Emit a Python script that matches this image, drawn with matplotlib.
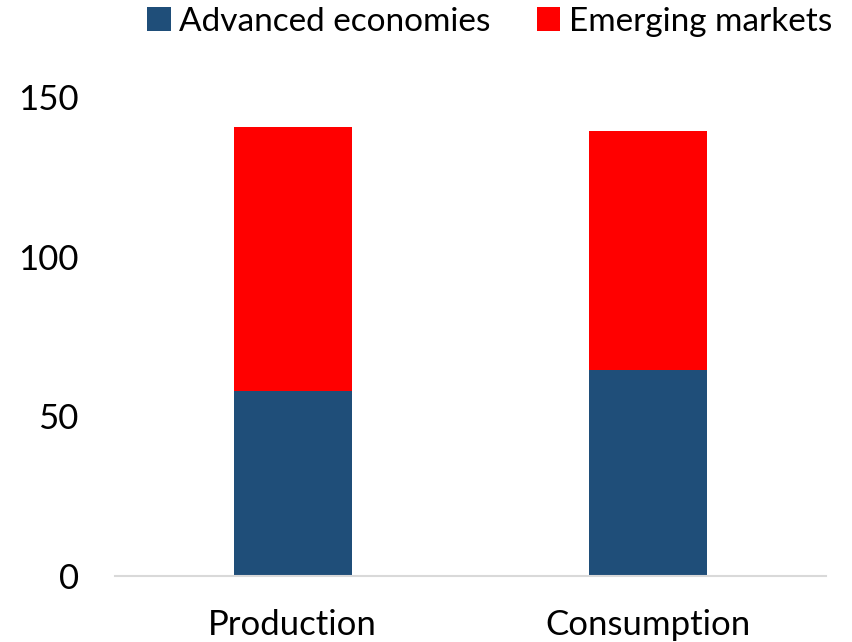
import matplotlib.pyplot as plt
import numpy as np

categories = ['Production', 'Consumption']
advanced = [57.8, 64.4]
emerging = [82.8, 75.0]

plt.rcParams['font.family'] = ['Lato', 'DejaVu Sans']

fig = plt.figure(figsize=(8.53, 6.42), dpi=100)
ax = fig.add_axes([0.1348, 0.1028, 0.8336, 0.7463])

x = np.arange(len(categories))
ax.bar(x, advanced, width=0.333, color='#1F4E79', label='Advanced economies')
ax.bar(x, emerging, width=0.333, bottom=advanced, color='#FF0000', label='Emerging markets')

ax.set_xlim(-0.5, 1.5)
ax.set_ylim(0, 150)
ax.set_yticks([0, 50, 100, 150])
ax.set_xticks(x)
ax.set_xticklabels(categories)
ax.tick_params(axis='both', length=0, labelsize=25, colors='black')
ax.tick_params(axis='y', pad=26)
ax.tick_params(axis='x', pad=24)

for s in ['top', 'right', 'left']:
    ax.spines[s].set_visible(False)
ax.spines['bottom'].set_color('#D9D9D9')
ax.spines['bottom'].set_linewidth(1.5)

ax.legend(loc='center', bbox_to_anchor=(0.527, 1.157), ncol=2, frameon=False,
          fontsize=24, handlelength=0.7, handleheight=0.7, handletextpad=0.25,
          columnspacing=1.4)

fig.savefig('out.png', dpi=100)
